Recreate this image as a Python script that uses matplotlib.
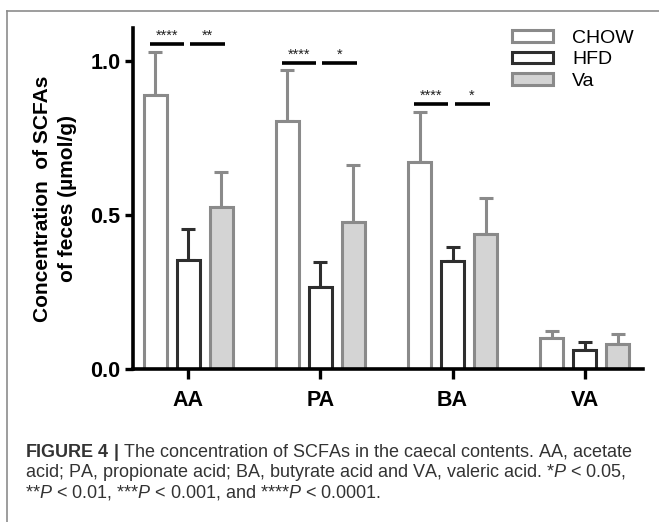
import numpy as np
import matplotlib
matplotlib.use('Agg')
from matplotlib import pyplot as plt
from matplotlib.patches import Patch
from matplotlib.lines import Line2D

# values
acids = ['AA', 'PA', 'BA', 'VA']
groups = ['CHOW', 'HFD', 'Va']
chow_mean = [0.89, 0.806, 0.671, 0.100]
chow_err = [0.138, 0.164, 0.162, 0.024]
hfd_mean = [0.354, 0.265, 0.351, 0.063]
hfd_err = [0.100, 0.082, 0.044, 0.026]
va_mean = [0.527, 0.476, 0.437, 0.081]
va_err = [0.113, 0.186, 0.118, 0.033]

# significance bars: (acid index, y level, label left pair, label right pair)
sig_acid = [0, 1, 2]
sig_level = [1.054, 0.992, 0.859]
sig_left = ['****', '****', '****']
sig_right = ['**', '*', '*']

plt.rcParams['font.family'] = ['Liberation Sans', 'DejaVu Sans']
plt.rcParams['mathtext.fontset'] = 'custom'
plt.rcParams['mathtext.rm'] = 'Liberation Sans'
plt.rcParams['mathtext.it'] = 'Liberation Sans:italic'
plt.rcParams['mathtext.bf'] = 'Liberation Sans:bold'

W, H = 659, 522
fig = plt.figure(figsize=(W / 100, H / 100), dpi=100)
ax = fig.add_axes([133 / W, 1 - 369 / H, (643 - 133) / W, (369 - 28) / H])

light = '#8a8a8a'
dark = '#2e2e2e'
styles = [('white', light), ('white', dark), ('#d4d4d4', light)]
means = [chow_mean, hfd_mean, va_mean]
errs = [chow_err, hfd_err, va_err]

x = np.arange(len(acids))
offset = 0.25
width = 0.175
for i, (face, edge) in enumerate(styles):
    xs = x + (i - 1) * offset
    ax.errorbar(xs, means[i], yerr=[np.zeros(len(acids)), errs[i]], fmt='none',
                ecolor=edge, elinewidth=2.2, capsize=5, capthick=2.2, zorder=1)
    ax.bar(xs, means[i], width, color=face, edgecolor=edge, linewidth=2.2, zorder=2)

for k, a in enumerate(sig_acid):
    y = sig_level[k]
    for (lo, hi), lab in [((-0.29, -0.035), sig_left[k]), ((0.015, 0.28), sig_right[k])]:
        ax.plot([a + lo, a + hi], [y, y], color='black', lw=2.6, solid_capstyle='butt',
                clip_on=False)
        ax.text(a + (lo + hi) / 2, y + 0.004, lab, ha='center', va='bottom',
                fontsize=10.5, color='#222222')

ax.set_xlim(-0.417, 3.44)
ax.set_ylim(0, 1.107)
ax.set_xticks(x)
ax.set_xticklabels(acids, fontsize=15.5, fontweight='bold')
ax.set_yticks([0, 0.5, 1.0])
ax.set_yticklabels(['0.0', '0.5', '1.0'], fontsize=15.5, fontweight='bold')
ax.tick_params(axis='x', length=7, width=2.4, pad=8)
ax.tick_params(axis='y', length=6, width=2.4, pad=3)
for s in ['top', 'right']:
    ax.spines[s].set_visible(False)
for s in ['left', 'bottom']:
    ax.spines[s].set_linewidth(2.6)

fig.text(55 / W, 1 - 199 / H, 'Concentration  of SCFAs\nof feces (\u00b5mol/g)',
         rotation=90, ha='center', va='center', fontsize=15, fontweight='bold',
         linespacing=1.35, multialignment='center')

handles = [Patch(facecolor=f, edgecolor=e, linewidth=2.2) for f, e in styles]
fig.legend(handles, groups, loc='upper left', bbox_to_anchor=(512 / W, 1 - 30 / H),
           frameon=False, fontsize=14, handlelength=2.1, handleheight=0.55,
           labelspacing=0.22, handletextpad=1.0, borderpad=0, borderaxespad=0)

# frame around the figure panel
fig.add_artist(Line2D([7 / W, 1], [1 - 11 / H, 1 - 11 / H], color='#8c8c8c', lw=1.2))
fig.add_artist(Line2D([7 / W, 7 / W], [0, 1 - 11 / H], color='#8c8c8c', lw=1.2))

cap_kw = dict(fontsize=13, color='#333333', ha='left', va='baseline')
fig.text(25 / W, 1 - 457 / H,
         r'$\mathbf{FIGURE\ 4\ |}$ The concentration of SCFAs in the caecal contents. AA, acetate',
         **cap_kw)
fig.text(25 / W, 1 - 477 / H,
         r'acid; PA, propionate acid; BA, butyrate acid and VA, valeric acid. *$\mathit{P}$ < 0.05,',
         **cap_kw)
fig.text(25 / W, 1 - 497 / H,
         r'**$\mathit{P}$ < 0.01, ***$\mathit{P}$ < 0.001, and ****$\mathit{P}$ < 0.0001.',
         **cap_kw)

fig.savefig('out.png', dpi=100)
